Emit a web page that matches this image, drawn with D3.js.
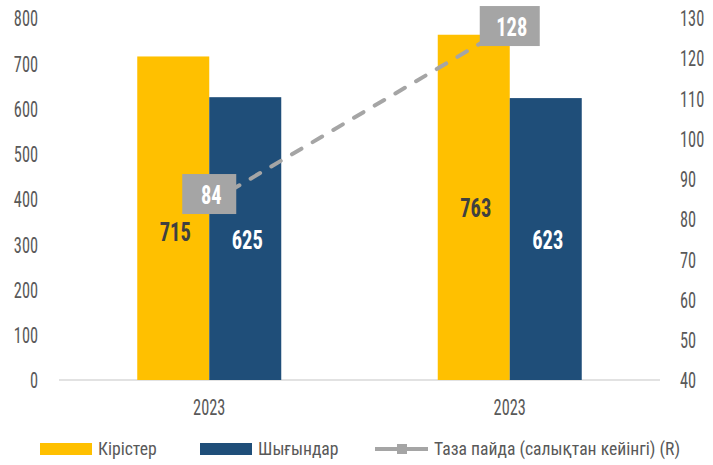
<!DOCTYPE html>
<html><head><meta charset="utf-8">
<script src="https://cdn.jsdelivr.net/npm/d3@7"></script>
<style>
body{margin:0;background:#fff;}
svg text{font-family:"Roboto Condensed","Roboto",sans-serif;}
</style></head>
<body><svg id="c" width="713" height="465"></svg>
<script>
const categories = ["2023", "2023 "];
const revenue = [715, 763];
const expenses = [625, 623];
const netProfit = [84, 128];
const leftTicks = [0,100,200,300,400,500,600,700,800];
const rightTicks = [40,50,60,70,80,90,100,110,120,130];
const seriesNames = ["Кірістер", "Шығындар", "Таза пайда (салықтан кейінгі) (R)"];

const svg = d3.select("#c");
const m = {l:59, r:53, t:18, b:85};
const W = 713, H = 465;
const x0 = d3.scaleBand().domain(categories).range([m.l, W-m.r]);
const x1 = d3.scaleBand().domain([0,1]).range([0, 144]);
const yL = d3.scaleLinear().domain([0,800]).range([H-m.b, m.t]);
const yR = d3.scaleLinear().domain([40,130]).range([H-m.b, m.t]);
const colors = ["#ffc000", "#1f4e79", "#a5a5a5"];
const tickColor = "#595959";
const axisFont = 21.5, axisSqueeze = 0.76;

function squeeze(sel, k){
  sel.each(function(){
    const w = this.getComputedTextLength();
    d3.select(this).attr("textLength", w*k).attr("lengthAdjust","spacingAndGlyphs");
  });
}

svg.append("line").attr("x1", m.l).attr("x2", W-m.r).attr("y1", yL(0)).attr("y2", yL(0))
  .attr("stroke", "#d9d9d9").attr("stroke-width", 1.5);

const gl = svg.append("g").attr("transform", `translate(${m.l},0)`)
  .call(d3.axisLeft(yL).tickValues(leftTicks).tickSize(0).tickPadding(21));
gl.select(".domain").remove();
gl.selectAll("text").attr("font-size", axisFont).attr("fill", tickColor).attr("font-family", null).attr("dy","0.36em");
squeeze(gl.selectAll("text"), axisSqueeze);

const gr = svg.append("g").attr("transform", `translate(${W-m.r},0)`)
  .call(d3.axisRight(yR).tickValues(rightTicks).tickSize(0).tickPadding(20));
gr.select(".domain").remove();
gr.selectAll("text").attr("font-size", axisFont).attr("fill", tickColor).attr("font-family", null).attr("dy","0.36em");
squeeze(gr.selectAll("text"), axisSqueeze);

const gx = svg.append("g").attr("transform", `translate(0,${yL(0)})`)
  .call(d3.axisBottom(x0).tickSize(0).tickPadding(20).tickFormat(d => d.trim()));
gx.select(".domain").remove();
gx.selectAll("text").attr("font-size", axisFont).attr("fill", tickColor).attr("font-family", null);
squeeze(gx.selectAll("text"), axisSqueeze);

const groups = categories.map((c,i)=>({c, vals:[revenue[i], expenses[i]], i}));
const g = svg.selectAll("g.grp").data(groups).enter().append("g").attr("class","grp")
  .attr("transform", d => `translate(${x0(d.c) + x0.bandwidth()/2 - 72},0)`);
g.selectAll("rect").data(d => d.vals.map((v,j)=>({v,j,i:d.i}))).enter().append("rect")
  .attr("x", d => x1(d.j)).attr("width", x1.bandwidth())
  .attr("y", d => yL(d.v)).attr("height", d => yL(0)-yL(d.v))
  .attr("fill", d => colors[d.j]);

const pts = categories.map((c,i)=>[x0(c)+x0.bandwidth()/2, yR(netProfit[i])]);
svg.append("path").attr("d", d3.line()(pts)).attr("fill","none")
  .attr("stroke", colors[2]).attr("stroke-width", 4).attr("stroke-dasharray", "11,13")
  .attr("stroke-linecap","round");

const vl = g.selectAll("text.v").data(d => d.vals.map((v,j)=>({v,j,i:d.i}))).enter().append("text").attr("class","v")
  .attr("x", d => x1(d.j) + x1.bandwidth()/2 + 2)
  .attr("y", d => (yL(d.v)+yL(0))/2 + ((d.i===0 && d.j===0) ? 14 : 1))
  .attr("text-anchor","middle").attr("dy","0.36em")
  .attr("font-size", 25).attr("font-weight","bold")
  .attr("fill", d => d.j===0 ? "#404040" : "#ffffff")
  .text(d => d.v);
squeeze(vl, 0.82);

netProfit.forEach((v,i)=>{
  const [px,py] = pts[i];
  const w = 54 + (String(v).length-2)*6, h = 40;
  const cy = py - (i===0 ? 9 : 0);
  svg.append("rect").attr("x", px - w/2).attr("y", cy - h/2).attr("width", w).attr("height", h)
    .attr("fill", colors[2]);
  const t = svg.append("text").attr("x", px+2).attr("y", cy+1).attr("text-anchor","middle")
    .attr("dy","0.36em").attr("font-size", 25).attr("font-weight","bold")
    .attr("fill","#fff").text(v);
  squeeze(t, 0.82);
});

const ly = 449;
const lg = svg.append("g");
lg.append("rect").attr("x",40).attr("y",ly-6).attr("width",52).attr("height",12).attr("fill",colors[0]);
lg.append("rect").attr("x",200).attr("y",ly-6).attr("width",52).attr("height",12).attr("fill",colors[1]);
lg.append("line").attr("x1",375).attr("x2",428).attr("y1",ly).attr("y2",ly).attr("stroke",colors[2]).attr("stroke-width",4);
lg.append("rect").attr("x",397).attr("y",ly-5).attr("width",10).attr("height",10).attr("fill",colors[2]);
const lt = lg.selectAll("text").data([[98,0],[258,1],[434,2]]).enter().append("text")
  .attr("x", d=>d[0]).attr("y", ly).attr("dy","0.36em").attr("font-size",18).attr("fill",tickColor)
  .text(d=>seriesNames[d[1]]);
squeeze(lt, 0.98);
</script></body></html>
